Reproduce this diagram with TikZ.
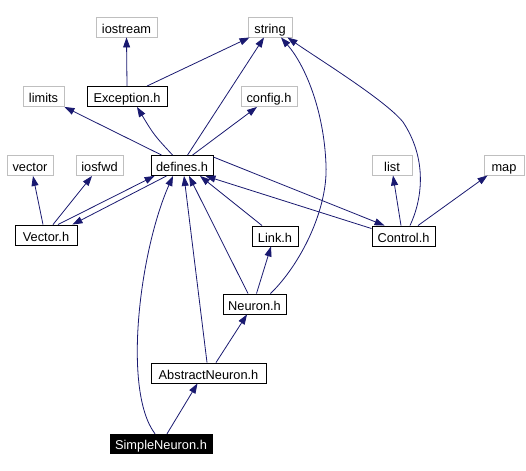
\documentclass[tikz,border=0pt]{standalone}
\usepackage{fontspec}
\setmainfont{Liberation Sans}
\usetikzlibrary{arrows.meta}
\definecolor{edgecol}{HTML}{191970}
\definecolor{sysgray}{HTML}{BFBFBF}
\tikzset{
  boxtext/.style={inner sep=0pt, text height=12.2pt, text depth=0pt, font=\fontsize{12.8}{14}\selectfont},
  filebox/.style={boxtext, draw=black, line width=0.9pt, minimum height=20pt},
  sysbox/.style={boxtext, draw=sysgray, line width=0.9pt, minimum height=20pt},
  rootbox/.style={boxtext, fill=black, text=white, draw=black, minimum height=19pt},
  dep/.style={draw=edgecol, line width=0.8pt, -{Triangle[length=10pt,width=7pt]}, color=edgecol},
}
\begin{document}
\begin{tikzpicture}[x=1pt,y=-1pt]
\useasboundingbox (0,0) rectangle (526,470);
% nodes
\node[sysbox, minimum width=61pt] (iostream) at (126.5,27) {iostream};
\node[sysbox, minimum width=44pt] (string) at (270,27) {string};
\node[sysbox, minimum width=41pt] (limits) at (43.5,96.5) {limits};
\node[filebox, minimum width=80pt] (exc) at (127,96.5) {Exception.h};
\node[sysbox, minimum width=56pt] (config) at (269,96.5) {config.h};
\node[sysbox, minimum width=46pt] (vector) at (30,165.5) {vector};
\node[sysbox, minimum width=47pt] (iosfwd) at (99.5,165.5) {iosfwd};
\node[filebox, minimum width=62pt] (defines) at (182,165.5) {defines.h};
\node[sysbox, minimum width=40pt] (list) at (392,165) {list};
\node[sysbox, minimum width=40pt] (map) at (504,165) {map};
\node[filebox, minimum width=62pt] (vec) at (46,235) {Vector.h};
\node[filebox, minimum width=46pt] (link) at (275,236) {Link.h};
\node[filebox, minimum width=63pt] (control) at (403.5,236) {Control.h};
\node[filebox, minimum width=63pt] (neuron) at (254.5,304) {Neuron.h};
\node[filebox, minimum width=115pt] (abs) at (208.5,373) {AbstractNeuron.h};
\node[rootbox, minimum width=102pt] (simple) at (161,443.5) {SimpleNeuron.h};
% edges
\draw[dep] (exc.north) -- (iostream.south);
\draw[dep] ([xshift=20pt]exc.north) -- ([xshift=2pt]string.south west);
\draw[dep] ([xshift=11pt]defines.north west) -- (limits.south east);
\draw[dep] ([xshift=22pt]defines.north west) .. controls (154,135) .. ([xshift=10pt]exc.south);
\draw[dep] ([xshift=37pt]defines.north west) -- ([xshift=-6pt]string.south);
\draw[dep] ([xshift=42pt]defines.north west) -- ([xshift=-12pt]config.south);
\draw[dep] ([xshift=-3pt]vec.north) -- ([xshift=3pt]vector.south);
\draw[dep] ([xshift=7pt]vec.north) -- ([xshift=-7.5pt]iosfwd.south);
\draw[dep] ([xshift=12pt]vec.north) -- ([xshift=4pt]defines.south west);
\draw[dep] ([xshift=16pt]defines.south west) -- ([xshift=-5pt]vec.north east);
\draw[dep] ([xshift=-6pt]simple.north) .. controls (122,390) and (140,250) .. ([xshift=-9pt]defines.south);
\draw[dep] ([xshift=-1.5pt]abs.north) -- ([xshift=2pt]defines.south);
\draw[dep] ([xshift=-6.5pt]neuron.north) -- ([xshift=7pt]defines.south);
\draw[dep] ([xshift=-13pt]link.north) -- ([xshift=18pt]defines.south);
\draw[dep] ([yshift=-3pt]control.north west) -- ([xshift=-8pt]defines.south east);
\draw[dep] ([yshift=-2pt]defines.north east) -- ([xshift=13pt]control.north west);
\draw[dep] ([xshift=-2.5pt]control.north) -- ([xshift=1pt]list.south);
\draw[dep] ([xshift=14.5pt]control.north) -- ([xshift=4pt]map.south west);
\draw[dep] ([xshift=6.5pt]control.north) .. controls (422,200) and (428,160) .. (403,122)
  .. controls (385,100) and (320,60) .. ([xshift=-5pt]string.south east);
\draw[dep] ([xshift=16pt]neuron.north) .. controls (300,265) and (328,210) .. (326,165)
  .. controls (324,110) and (305,65) .. ([xshift=11pt]string.south);
\draw[dep] ([xshift=2pt]neuron.north) -- ([xshift=-4pt]link.south);
\draw[dep] ([xshift=7.5pt]abs.north) -- ([xshift=-7.5pt]neuron.south);
\draw[dep] ([xshift=6pt]simple.north) -- ([xshift=-11pt]abs.south);
\end{tikzpicture}
\end{document}
